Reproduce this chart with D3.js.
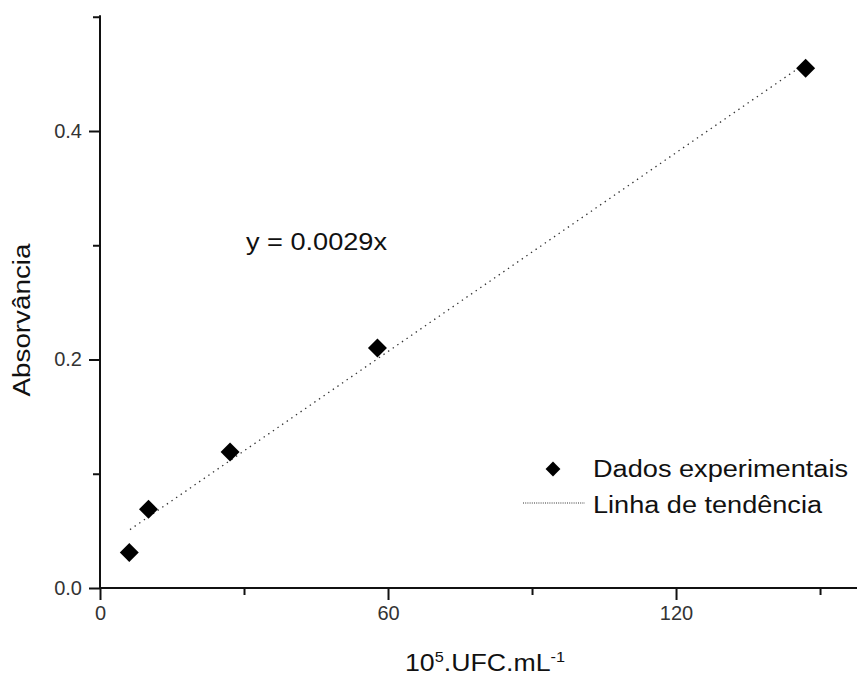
<!DOCTYPE html>
<html>
<head>
<meta charset="utf-8">
<script src="https://cdn.jsdelivr.net/npm/d3@7"></script>
<style>
  html, body { margin: 0; padding: 0; background: #fff; }
  svg { display: block; font-family: "Liberation Sans", Arial, sans-serif; }
</style>
</head>
<body>
<svg id="chart" width="857" height="677"></svg>
<script>
// Calibration data: cell concentration vs absorbance
const concentration = [6.1, 10.1, 27.1, 57.8, 147.0];
const absorbance = [0.031, 0.069, 0.119, 0.210, 0.455];

// Linear trend line
const trendSlope = 0.0029;
const trendIntercept = 0.033;
const trendRange = [6.25, 147.0];

const xMajorTicks = [0, 60, 120];
const xMinorTicks = [30, 90, 150];
const yMajorTicks = [0.0, 0.2, 0.4];
const yMinorTicks = [0.1, 0.3, 0.5];

const equationLabel = "y = 0.0029x";
const legendLabels = ["Dados experimentais", "Linha de tendência"];

const svg = d3.select("#chart");

const x = d3.scaleLinear().domain([0, 157.7]).range([100, 857]);
const y = d3.scaleLinear().domain([0, 0.5]).range([588, 16.75]);

const ink = "#111";

// Minor ticks
svg.append("g")
  .attr("transform", `translate(0,${y(0)})`)
  .call(d3.axisBottom(x).tickValues(xMinorTicks).tickSize(7).tickSizeOuter(0).tickFormat(""))
  .call(g => g.select(".domain").remove())
  .call(g => g.selectAll("line").attr("stroke", ink).attr("stroke-width", 2));

svg.append("g")
  .attr("transform", `translate(${x(0)},0)`)
  .call(d3.axisLeft(y).tickValues(yMinorTicks).tickSize(7).tickSizeOuter(0).tickFormat(""))
  .call(g => g.select(".domain").remove())
  .call(g => g.selectAll("line").attr("stroke", ink).attr("stroke-width", 2));

// Major ticks with labels
svg.append("g")
  .attr("transform", `translate(0,${y(0)})`)
  .call(d3.axisBottom(x).tickValues(xMajorTicks).tickSize(12).tickPadding(6).tickSizeOuter(0).tickFormat(d3.format("d")))
  .call(g => g.select(".domain").remove())
  .call(g => g.selectAll("line").attr("stroke", ink).attr("stroke-width", 2))
  .call(g => g.selectAll("text").attr("fill", "#333").attr("font-size", 20)
    .attr("font-family", "Liberation Sans, Arial, sans-serif"));

svg.append("g")
  .attr("transform", `translate(${x(0)},0)`)
  .call(d3.axisLeft(y).tickValues(yMajorTicks).tickSize(11).tickPadding(7).tickSizeOuter(0).tickFormat(d3.format(".1f")))
  .call(g => g.select(".domain").remove())
  .call(g => g.selectAll("line").attr("stroke", ink).attr("stroke-width", 2))
  .call(g => g.selectAll("text").attr("fill", "#333").attr("font-size", 20)
    .attr("font-family", "Liberation Sans, Arial, sans-serif"));

// Axis lines
svg.append("line")
  .attr("x1", x(0)).attr("x2", x(0))
  .attr("y1", y(0)).attr("y2", y(0.5) - 1.5)
  .attr("stroke", ink).attr("stroke-width", 2);
svg.append("line")
  .attr("x1", x(0) - 1).attr("x2", x.range()[1])
  .attr("y1", y(0)).attr("y2", y(0))
  .attr("stroke", ink).attr("stroke-width", 2);

// Trend line
const trendLine = d3.line().x(d => x(d)).y(d => y(trendIntercept + trendSlope * d));
svg.append("path")
  .attr("d", trendLine(trendRange))
  .attr("fill", "none")
  .attr("stroke", "#333")
  .attr("stroke-width", 1.3)
  .attr("stroke-dasharray", "1.4,4.2");

// Data points as diamonds
const diamond = d3.symbol().type(d3.symbolSquare).size(180);
svg.append("g").selectAll("path")
  .data(concentration.map((c, i) => [c, absorbance[i]]))
  .join("path")
  .attr("d", diamond)
  .attr("transform", d => `translate(${x(d[0])},${y(d[1])}) rotate(45)`)
  .attr("fill", "#000");

// Equation label
svg.append("text")
  .attr("x", 246).attr("y", 250)
  .attr("font-size", 23)
  .attr("textLength", 141).attr("lengthAdjust", "spacingAndGlyphs")
  .attr("fill", ink)
  .text(equationLabel);

// Legend
const legend = svg.append("g");
legend.append("path")
  .attr("d", d3.symbol().type(d3.symbolSquare).size(110))
  .attr("transform", "translate(553,469) rotate(45)")
  .attr("fill", "#000");
legend.append("text")
  .attr("x", 593).attr("y", 477)
  .attr("font-size", 23)
  .attr("textLength", 255).attr("lengthAdjust", "spacingAndGlyphs")
  .attr("fill", ink)
  .text(legendLabels[0]);
legend.append("line")
  .attr("x1", 523).attr("x2", 585)
  .attr("y1", 503).attr("y2", 503)
  .attr("stroke", "#333").attr("stroke-width", 1)
  .attr("stroke-dasharray", "1,1.2");
legend.append("text")
  .attr("x", 593).attr("y", 513)
  .attr("font-size", 23)
  .attr("textLength", 229).attr("lengthAdjust", "spacingAndGlyphs")
  .attr("fill", ink)
  .text(legendLabels[1]);

// Axis titles
const xTitle = svg.append("text")
  .attr("x", 405).attr("y", 671)
  .attr("font-size", 23)
  .attr("textLength", 160).attr("lengthAdjust", "spacingAndGlyphs")
  .attr("fill", ink);
xTitle.append("tspan").text("10");
xTitle.append("tspan").attr("font-size", 14).attr("dy", -9).text("5");
xTitle.append("tspan").attr("dy", 9).text(".UFC.mL");
xTitle.append("tspan").attr("font-size", 14).attr("dy", -9).text("-1");

svg.append("text")
  .attr("transform", "translate(30,320) rotate(-90)")
  .attr("text-anchor", "middle")
  .attr("font-size", 23)
  .attr("textLength", 153).attr("lengthAdjust", "spacingAndGlyphs")
  .attr("fill", ink)
  .text("Absorvância");
</script>
</body>
</html>
